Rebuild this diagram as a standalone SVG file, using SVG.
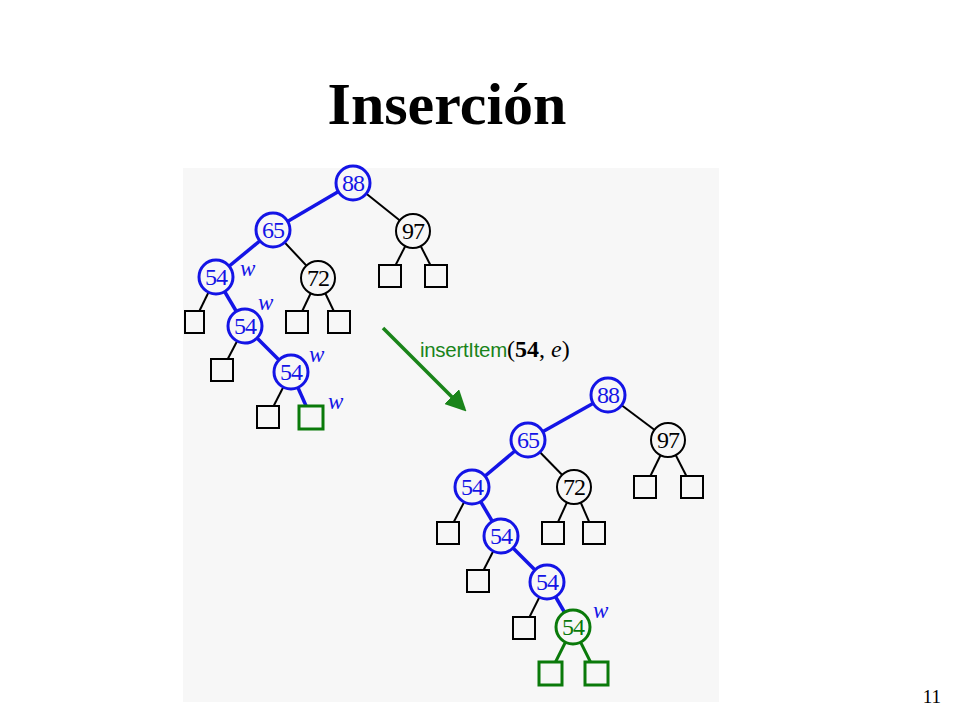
<svg xmlns="http://www.w3.org/2000/svg" width="960" height="720" viewBox="0 0 960 720">
<style>
.bl{stroke:#000;stroke-width:2;fill:none}
.be{stroke:#1414e6;stroke-width:3.5;fill:none}
.ge{stroke:#0a7a0a;stroke-width:3;fill:none}
.cb{fill:#f7f7f7;stroke:#1414e6;stroke-width:3}
.ck{fill:#f7f7f7;stroke:#000;stroke-width:2}
.cg{fill:#f7f7f7;stroke:#0a7a0a;stroke-width:3}
.sq{fill:#f7f7f7;stroke:#000;stroke-width:2}
.sg{fill:#f7f7f7;stroke:#0a7a0a;stroke-width:3}
.t{font-family:"Liberation Serif",serif;font-size:24px;text-anchor:middle;letter-spacing:-1px}
.tb{fill:#1414e6}.tk{fill:#000}.tg{fill:#0a7a0a}
.w{font-family:"Liberation Serif",serif;font-style:italic;font-size:23px;fill:#1414e6}
</style>
<defs>
<marker id="ah" markerWidth="6" markerHeight="6" refX="5" refY="3" orient="auto" markerUnits="strokeWidth">
<path d="M0,0 L6,3 L0,6 Z" fill="#1a841a"/>
</marker>
</defs>
<rect x="0" y="0" width="960" height="720" fill="#ffffff"/>
<rect x="183" y="168" width="536" height="534" fill="#f7f7f7"/>
<text x="447" y="124" font-family="Liberation Serif,serif" font-weight="bold" font-size="60" text-anchor="middle">Inserción</text>
<text x="941" y="703" font-family="Liberation Serif,serif" font-size="19" text-anchor="end">11</text>

<g id="connectors">
<line class="be" x1="353" y1="183" x2="273" y2="230"/>
<line class="bl" x1="353" y1="183" x2="413" y2="231"/>
<line class="be" x1="273" y1="230" x2="216" y2="277"/>
<line class="bl" x1="273" y1="230" x2="318" y2="278"/>
<line class="bl" x1="413" y1="231" x2="390" y2="276"/>
<line class="bl" x1="413" y1="231" x2="436" y2="276"/>
<line class="bl" x1="318" y1="278" x2="297" y2="322"/>
<line class="bl" x1="318" y1="278" x2="339" y2="322"/>
<line class="bl" x1="216" y1="277" x2="194" y2="322"/>
<line class="be" x1="216" y1="277" x2="245" y2="326"/>
<line class="bl" x1="245" y1="326" x2="222" y2="370"/>
<line class="be" x1="245" y1="326" x2="291" y2="372"/>
<line class="bl" x1="291" y1="372" x2="268" y2="417"/>
<line class="be" x1="291" y1="372" x2="311" y2="417"/>
<line class="be" x1="608" y1="395" x2="528" y2="440"/>
<line class="bl" x1="608" y1="395" x2="668" y2="440"/>
<line class="be" x1="528" y1="440" x2="472" y2="487"/>
<line class="bl" x1="528" y1="440" x2="574" y2="487"/>
<line class="bl" x1="668" y1="440" x2="645" y2="487"/>
<line class="bl" x1="668" y1="440" x2="692" y2="487"/>
<line class="bl" x1="574" y1="487" x2="553" y2="533"/>
<line class="bl" x1="574" y1="487" x2="594" y2="533"/>
<line class="bl" x1="472" y1="487" x2="448" y2="533"/>
<line class="be" x1="472" y1="487" x2="501" y2="536"/>
<line class="bl" x1="501" y1="536" x2="478" y2="581"/>
<line class="be" x1="501" y1="536" x2="547" y2="582"/>
<line class="bl" x1="547" y1="582" x2="524" y2="628"/>
<line class="be" x1="547" y1="582" x2="573" y2="627"/>
<line class="ge" x1="573" y1="627" x2="550" y2="673"/>
<line class="ge" x1="573" y1="627" x2="596" y2="673"/>
<line x1="383" y1="328" x2="464" y2="409" stroke="#1a841a" stroke-width="3.5" marker-end="url(#ah)"/>
</g>

<g id="arrow-label">
<text x="420" y="357" font-family="Liberation Sans,sans-serif" font-size="20.5" fill="#1a841a" letter-spacing="-0.3">insertItem<tspan font-family="Liberation Serif,serif" font-size="24" fill="#000" letter-spacing="0">(<tspan font-weight="bold">54</tspan>, <tspan font-style="italic">e</tspan>)</tspan></text>
</g>

<g id="left-tree">
<g id="L88"><circle class="cb" cx="353" cy="183" r="17"/><text class="t tb" x="353" y="191">88</text></g>
<g id="L65"><circle class="cb" cx="273" cy="230" r="17"/><text class="t tb" x="273" y="238">65</text></g>
<g id="L97"><circle class="ck" cx="413" cy="231" r="17"/><text class="t tk" x="413" y="239">97</text></g>
<g id="L54a"><circle class="cb" cx="216" cy="277" r="17"/><text class="t tb" x="216" y="285">54</text></g>
<g id="L72"><circle class="ck" cx="318" cy="278" r="17"/><text class="t tk" x="318" y="286">72</text></g>
<g id="L54b"><circle class="cb" cx="245" cy="326" r="17"/><text class="t tb" x="245" y="334">54</text></g>
<g id="L54c"><circle class="cb" cx="291" cy="372" r="17"/><text class="t tb" x="291" y="380">54</text></g>
<g id="Lsq1"><rect class="sq" x="379" y="265" width="22" height="22"/></g>
<g id="Lsq2"><rect class="sq" x="425" y="265" width="22" height="22"/></g>
<g id="Lsq3"><rect class="sq" x="286" y="311" width="22" height="22"/></g>
<g id="Lsq4"><rect class="sq" x="328" y="311" width="22" height="22"/></g>
<g id="Lsq5"><rect class="sq" x="185" y="311" width="19" height="22"/></g>
<g id="Lsq6"><rect class="sq" x="211" y="359" width="22" height="22"/></g>
<g id="Lsq7"><rect class="sq" x="257" y="406" width="22" height="22"/></g>
<g id="Lsq8"><rect class="sg" x="299" y="406" width="24" height="23" stroke-width="4"/></g>
<text class="w" x="240" y="276">w</text>
<text class="w" x="258" y="310">w</text>
<text class="w" x="309" y="362">w</text>
<text class="w" x="328" y="409">w</text>
</g>

<g id="right-tree">
<g id="R88"><circle class="cb" cx="608" cy="395" r="17"/><text class="t tb" x="608" y="403">88</text></g>
<g id="R65"><circle class="cb" cx="528" cy="440" r="17"/><text class="t tb" x="528" y="448">65</text></g>
<g id="R97"><circle class="ck" cx="668" cy="440" r="17"/><text class="t tk" x="668" y="448">97</text></g>
<g id="R54a"><circle class="cb" cx="472" cy="487" r="17"/><text class="t tb" x="472" y="495">54</text></g>
<g id="R72"><circle class="ck" cx="574" cy="487" r="17"/><text class="t tk" x="574" y="495">72</text></g>
<g id="R54b"><circle class="cb" cx="501" cy="536" r="17"/><text class="t tb" x="501" y="544">54</text></g>
<g id="R54c"><circle class="cb" cx="547" cy="582" r="17"/><text class="t tb" x="547" y="590">54</text></g>
<g id="R54d"><circle class="cg" cx="573" cy="627" r="17"/><text class="t tg" x="573" y="635">54</text></g>
<g id="Rsq1"><rect class="sq" x="634" y="476" width="22" height="22"/></g>
<g id="Rsq2"><rect class="sq" x="681" y="476" width="22" height="22"/></g>
<g id="Rsq3"><rect class="sq" x="437" y="522" width="22" height="22"/></g>
<g id="Rsq4"><rect class="sq" x="542" y="522" width="22" height="22"/></g>
<g id="Rsq5"><rect class="sq" x="583" y="522" width="22" height="22"/></g>
<g id="Rsq6"><rect class="sq" x="467" y="570" width="22" height="22"/></g>
<g id="Rsq7"><rect class="sq" x="513" y="617" width="22" height="22"/></g>
<g id="Rsq8"><rect class="sg" x="539" y="662" width="23" height="23"/></g>
<g id="Rsq9"><rect class="sg" x="585" y="662" width="23" height="23"/></g>
<text class="w" x="593" y="618">w</text>
</g>
</svg>
